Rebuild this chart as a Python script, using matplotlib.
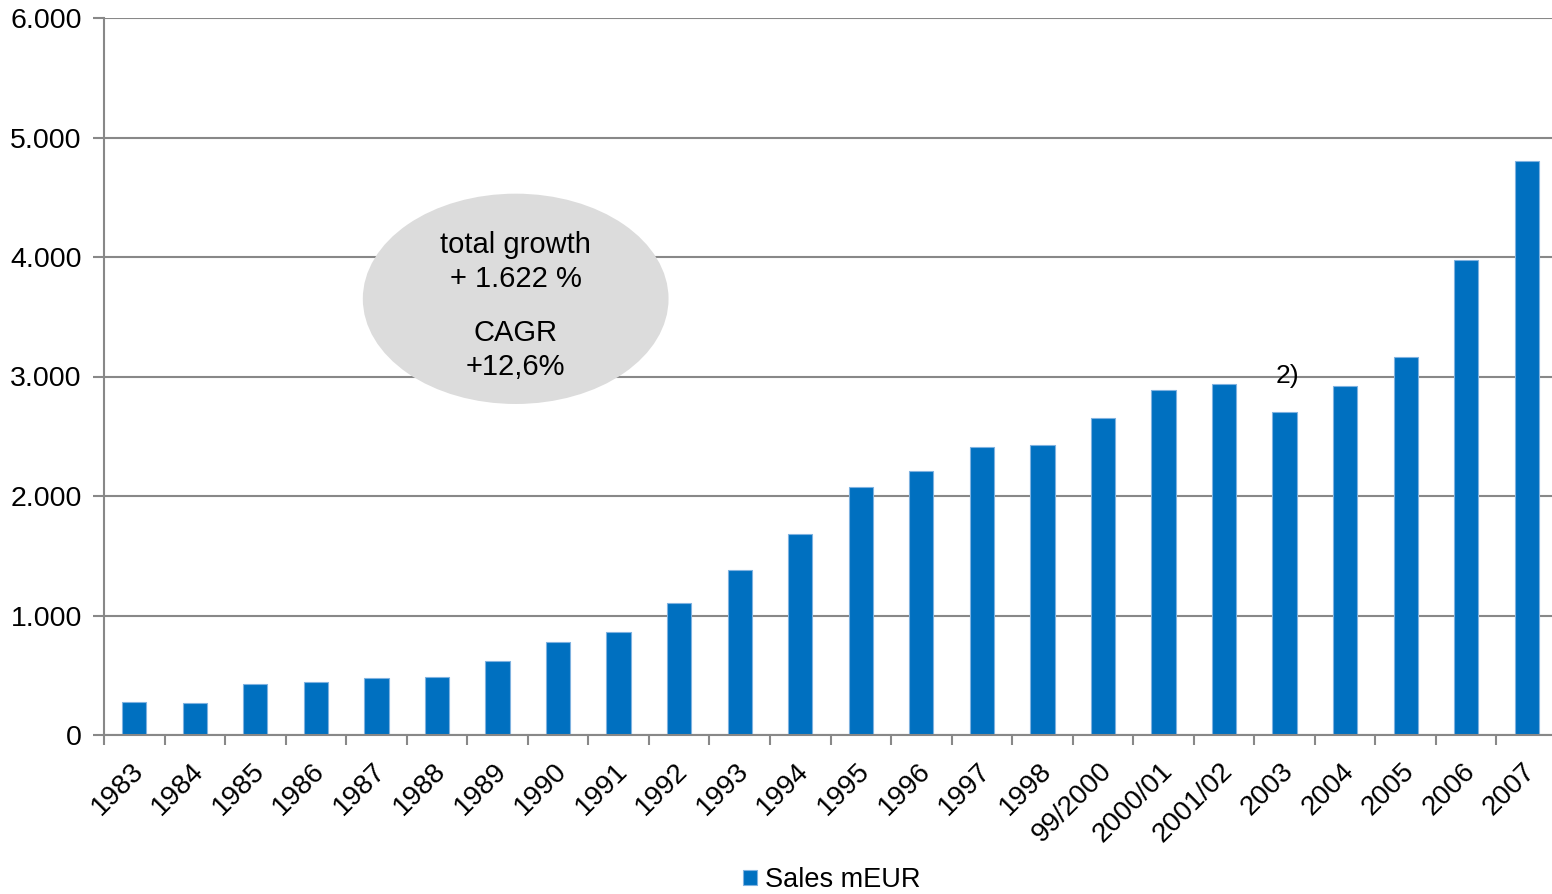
import matplotlib.pyplot as plt
from matplotlib.patches import Ellipse
from matplotlib.ticker import FuncFormatter, FixedLocator
from matplotlib.transforms import ScaledTranslation

plt.rcParams['font.family'] = ['Liberation Sans', 'DejaVu Sans']

# Sales per fiscal year, million EUR
years = ["1983", "1984", "1985", "1986", "1987", "1988", "1989", "1990",
         "1991", "1992", "1993", "1994", "1995", "1996", "1997", "1998",
         "99/2000", "2000/01", "2001/02", "2003", "2004", "2005", "2006", "2007"]
sales = [278, 268, 427, 444, 477, 485, 616, 778,
         862, 1105, 1381, 1682, 2075, 2209, 2410, 2427,
         2653, 2887, 2937, 2703, 2920, 3163, 3975, 4803]
yticks = [0, 1000, 2000, 3000, 4000, 5000, 6000]

BLUE = "#0070C0"
GRID = "#888888"

fig = plt.figure(figsize=(15.52, 8.94), dpi=100)
ax = fig.add_axes([104 / 1552, 159 / 894, 1453 / 1552, 717 / 894])

x = list(range(len(years)))
ax.bar(x, sales, width=0.40, color=BLUE, edgecolor="#7fb2e0", linewidth=0.8, zorder=3,
       label="Sales mEUR")

ax.set_xlim(-0.5, len(years) - 0.5)
ax.set_ylim(0, 6000)

# y axis with dotted thousands separator
ax.set_yticks(yticks)
ax.yaxis.set_major_formatter(FuncFormatter(lambda v, p: f"{int(v):,}".replace(",", ".")))
ax.yaxis.grid(True, color=GRID, linewidth=1.5, zorder=0)
ax.tick_params(axis="y", length=8, width=1.5, color=GRID, pad=8, labelsize=20.5)

# category labels at bar centres, tick marks between categories
ax.set_xticks(x)
ax.set_xticklabels(years, rotation=45, ha="right", va="center", rotation_mode="anchor",
                   fontsize=20)
ax.tick_params(axis="x", which="major", length=0, pad=23)
shift = ScaledTranslation(5 / 100, 0, fig.dpi_scale_trans)
for lbl in ax.get_xticklabels():
    lbl.set_transform(lbl.get_transform() + shift)
ax.xaxis.set_minor_locator(FixedLocator([i - 0.5 for i in range(len(years) + 1)]))
ax.tick_params(axis="x", which="minor", length=7, width=1.5, color=GRID)

for side in ["top", "right"]:
    ax.spines[side].set_visible(False)
for side in ["left", "bottom"]:
    ax.spines[side].set_color(GRID)
    ax.spines[side].set_linewidth(1.5)
    ax.spines[side].set_zorder(4)

# growth bubble
ell = Ellipse((6.3, 3650), width=5.05, height=1760, facecolor="#dcdcdc",
              edgecolor="none", zorder=5)
ax.add_patch(ell)
bubble_lines = [("total growth", 4033), ("+ 1.622 %", 3749),
                ("CAGR", 3297), ("+12,6%", 3013)]
for txt, yb in bubble_lines:
    ax.text(6.3, yb, txt, ha="center", va="baseline", fontsize=21, zorder=6)

# footnote marker above 2003
ax.text(19.05, 3000, "2)", ha="center", va="center", fontsize=19, zorder=6)

fig.legend(loc="center", bbox_to_anchor=(832 / 1552, 1 - 880 / 894), frameon=False,
           fontsize=19.5, handlelength=0.5, handleheight=0.5, handletextpad=0.3)

fig.savefig("out.png", dpi=100)
